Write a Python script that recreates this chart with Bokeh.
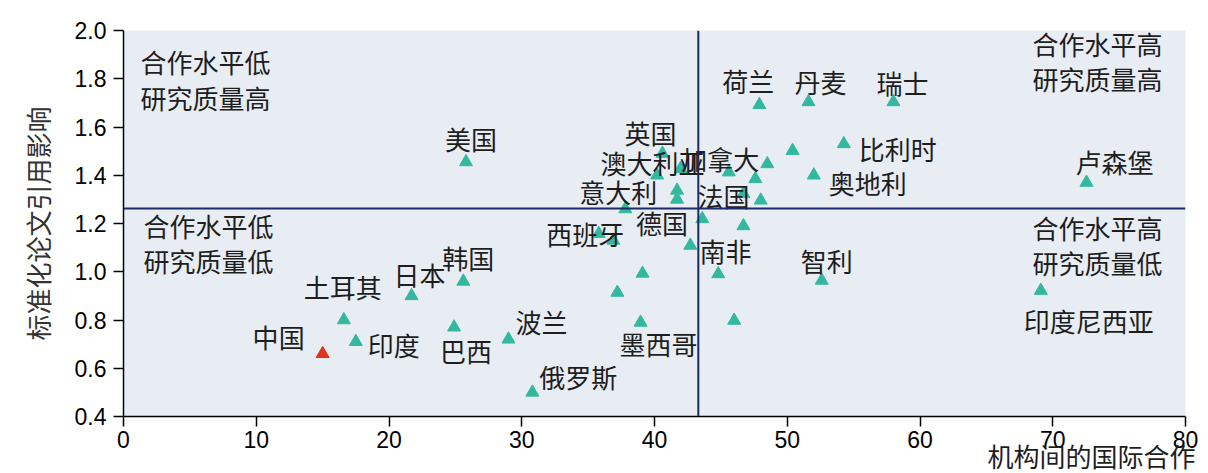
from bokeh.plotting import figure
from bokeh.models import Span, FixedTicker, Range1d, ColumnDataSource, LinearAxis
from bokeh.core.properties import value
from bokeh.embed import file_html
from bokeh.resources import INLINE

# ---------------- data ----------------
names = ["中国", "土耳其", "印度", "日本", "韩国", "巴西", "波兰", "俄罗斯", "美国",
         "墨西哥", "西班牙", "意大利", "德国", "英国", "澳大利亚", "加拿大", "法国",
         "南非", "智利", "荷兰", "丹麦", "瑞士", "比利时", "奥地利", "卢森堡", "印度尼西亚"]
collab = [15.0, 16.6, 17.5, 21.7, 25.6, 24.9, 29.0, 30.8, 25.8,
          38.95, 36.9, 37.8, 41.7, 40.6, 41.96, 48.5, 46.7,
          46.7, 52.6, 47.9, 51.6, 58.0, 54.26, 52.0, 72.54, 69.1]
impact = [0.66, 0.80, 0.71, 0.90, 0.96, 0.77, 0.72, 0.50, 1.455,
          0.79, 1.13, 1.26, 1.30, 1.49, 1.427, 1.447, 1.323,
          1.19, 0.964, 1.692, 1.704, 1.704, 1.53, 1.40, 1.37, 0.922]
highlight = ["中国"]

other_collab = [35.8, 37.2, 39.1, 42.7, 43.6, 44.8, 46.0, 45.6, 47.6, 48.0, 50.4, 41.7, 40.2]
other_impact = [1.158, 0.914, 0.993, 1.109, 1.219, 0.991, 0.798, 1.413, 1.385, 1.296, 1.502, 1.337, 1.40]

x_ticks = [0, 10, 20, 30, 40, 50, 60, 70, 80]
y_ticks = [0.4, 0.6, 0.8, 1.0, 1.2, 1.4, 1.6, 1.8, 2.0]
y_tick_labels = ["0.4", "0.6", "0.8", "1.0", "1.2", "1.4", "1.6", "1.8", "2.0"]

x_threshold = 43.3
y_threshold = 1.262

quadrant_tl = ["合作水平低", "研究质量高"]
quadrant_bl = ["合作水平低", "研究质量低"]
quadrant_tr = ["合作水平高", "研究质量高"]
quadrant_br = ["合作水平高", "研究质量低"]

x_title = "机构间的国际合作"
y_title = "标准化论文引用影响"

# ---------------- layout / style ----------------
FW, FH = 1062, 386
X0, X1, Y0, Y1 = 0, 80, 0.4, 2.0
ux = (X1 - X0) / FW
uy = (Y1 - Y0) / FH

# label pixel offsets (dx right, dy down) from each point
label_off = {
    "中国": (-44, -17), "土耳其": (-1, -34), "印度": (38, 3), "日本": (8, -21),
    "韩国": (5, -24), "巴西": (12, 23), "波兰": (33, -18), "俄罗斯": (46, -16),
    "美国": (5, -23), "墨西哥": (18, 21), "西班牙": (-28, -7), "意大利": (-7, -18),
    "德国": (-15, 23), "英国": (-12, -21), "澳大利亚": (-28, -6), "加拿大": (-47, -5),
    "法国": (-20, 2), "南非": (-18, 25), "智利": (5, -20), "荷兰": (-11, -24),
    "丹麦": (12, -20), "瑞士": (9, -19), "比利时": (54, 5), "奥地利": (54, 7),
    "卢森堡": (28, -21), "印度尼西亚": (48, 30),
}

CJK = "Noto Sans CJK SC"
FS = "26px"
TEAL = "#33b8a0"
RED = "#e0341f"
NAVY = "#1b2a6b"
TXT = "#1e1e1e"

p = figure(frame_width=FW, frame_height=FH,
           x_range=Range1d(X0, X1), y_range=Range1d(Y0, Y1),
           output_backend="svg", toolbar_location=None,
           min_border_left=123, min_border_right=15,
           min_border_top=30, min_border_bottom=20)

p.background_fill_color = "#e8edf3"
p.border_fill_color = "white"
p.outline_line_color = None
p.xgrid.visible = False
p.ygrid.visible = False

for ax in (p.xaxis[0], p.yaxis[0]):
    ax.axis_line_color = "black"
    ax.axis_line_width = 1.5
    ax.major_tick_line_color = "black"
    ax.major_tick_line_width = 1.5
    ax.major_tick_out = 10
    ax.major_tick_in = 0
    ax.minor_tick_line_color = None
    ax.major_label_text_font = "Liberation Sans"
    ax.major_label_text_font_size = "23px"
    ax.major_label_text_color = "black"

p.xaxis.ticker = FixedTicker(ticks=x_ticks)
p.xaxis.major_label_standoff = 4

# x-axis title, right-side position, drawn as the single label of a bare axis
title_pos = (1091 - 123) * ux
title_axis = LinearAxis(ticker=FixedTicker(ticks=[title_pos]),
                        major_label_overrides={title_pos: x_title},
                        axis_line_color=None, major_tick_line_color=None,
                        minor_tick_line_color=None, major_tick_out=0, major_tick_in=0,
                        major_label_standoff=-14,
                        major_label_text_font=CJK, major_label_text_font_size=FS,
                        major_label_text_color=TXT)
p.add_layout(title_axis, "below")

p.yaxis.ticker = FixedTicker(ticks=y_ticks)
p.yaxis.major_label_overrides = {t: l for t, l in zip(y_ticks, y_tick_labels)}
p.yaxis.major_label_standoff = 7
p.yaxis.axis_label = y_title
p.yaxis.axis_label_text_font = CJK
p.yaxis.axis_label_text_font_size = FS
p.yaxis.axis_label_text_font_style = "normal"
p.yaxis.axis_label_text_color = "#333333"
p.yaxis.axis_label_standoff = 16

p.add_layout(Span(location=y_threshold, dimension="width", line_color=NAVY, line_width=2))
p.add_layout(Span(location=x_threshold, dimension="height", line_color=NAVY, line_width=2))

# unlabeled points
p.scatter(other_collab, other_impact, marker="triangle", size=13,
          fill_color=TEAL, line_color=TEAL)

colors = [RED if n in highlight else TEAL for n in names]
src = ColumnDataSource(dict(x=collab, y=impact, c=colors))
p.scatter("x", "y", source=src, marker="triangle", size=13,
          fill_color="c", line_color="c")

lx = [x + label_off[n][0] * ux for n, x in zip(names, collab)]
ly = [y - label_off[n][1] * uy for n, y in zip(names, impact)]
p.text(lx, ly, text=names, text_font=value(CJK), text_font_size=FS,
       text_align="center", text_baseline="middle", text_color=TXT)

def quad(lines, px, py_list, align):
    xs = [px * ux] * len(lines)
    ys = [Y1 - py * uy for py in py_list]
    p.text(xs, ys, text=lines, text_font=value(CJK), text_font_size=FS,
           text_align=align, text_baseline="middle", text_color=TXT)

quad(quadrant_tl, 17, [31, 67], "left")
quad(quadrant_bl, 20, [195, 230], "left")
quad(quadrant_tr, 1039, [13, 48], "right")
quad(quadrant_br, 1039, [197, 232], "right")

open("out.html", "w").write(file_html(p, INLINE))
